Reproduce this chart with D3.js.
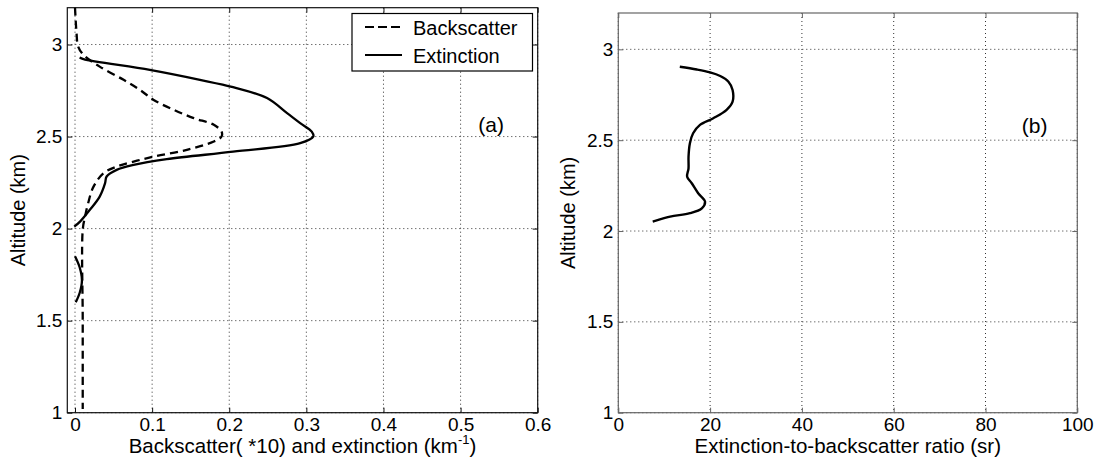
<!DOCTYPE html>
<html lang="en">
<head>
<meta charset="utf-8">
<script src="https://cdn.jsdelivr.net/npm/d3@7"></script>
<style>
  body { margin: 0; background: white; }
  svg { font-family: "Liberation Sans", Arial, sans-serif; }
  .grid line { stroke: #333; stroke-dasharray: 1,3; stroke-width: 1; }
  .axis path.domain { display: none; }
</style>
</head>
<body>
<svg width="1097" height="465"></svg>
<script>
// data
const yTicks = [1, 1.5, 2, 2.5, 3];
const yTickLabels = ["1", "1.5", "2", "2.5", "3"];
const xTicksA = [0, 0.1, 0.2, 0.3, 0.4, 0.5, 0.6];
const xTickLabelsA = ["0", "0.1", "0.2", "0.3", "0.4", "0.5", "0.6"];
const xTicksB = [0, 20, 40, 60, 80, 100];
const xTickLabelsB = ["0", "20", "40", "60", "80", "100"];

// backscatter (*10), dashed
const backAlt = [3.2, 3.06, 2.99, 2.944, 2.88, 2.808, 2.754, 2.699, 2.645, 2.6, 2.564, 2.527, 2.5,
  2.473, 2.428, 2.391, 2.364, 2.337, 2.301, 2.228, 2.138, 2.065, 1.993, 1.5, 1.02];
const backVal = [0.0, 0.002, 0.004, 0.011, 0.032, 0.063, 0.084, 0.102, 0.128, 0.154, 0.18, 0.19, 0.19,
  0.18, 0.145, 0.102, 0.076, 0.054, 0.037, 0.024, 0.017, 0.013, 0.010, 0.010, 0.010];

// extinction (km-1), solid; null = gap
const extAlt = [2.93, 2.921, 2.862, 2.808, 2.768, 2.709, 2.627, 2.573, 2.527, 2.5, 2.464, 2.418,
  2.377, 2.346, 2.319, 2.283, 2.247, 2.174, 2.101, 2.038, 2.011, 1.93,
  1.85, 1.79, 1.72, 1.65, 1.60];
const extVal = [0.006, 0.011, 0.097, 0.162, 0.205, 0.249, 0.275, 0.292, 0.307, 0.309, 0.292, 0.205,
  0.119, 0.076, 0.054, 0.041, 0.039, 0.032, 0.019, 0.0065, -0.001, null,
  0.0, 0.006, 0.009, 0.006, 0.001];

// extinction-to-backscatter ratio (sr)
const ratioAlt = [2.904, 2.889, 2.873, 2.853, 2.822, 2.776, 2.712, 2.667, 2.621, 2.584, 2.538, 2.483,
  2.409, 2.345, 2.299, 2.263, 2.208, 2.162, 2.125, 2.098, 2.079, 2.052];
const ratioVal = [13.4, 17.1, 20.0, 22.2, 24.0, 24.9, 24.9, 23.6, 20.7, 17.8, 16.3, 15.6,
  15.3, 15.3, 15.0, 16.0, 17.4, 18.9, 18.2, 15.6, 11.3, 7.5];

const FONT = '"Liberation Sans", Arial, sans-serif';
const svg = d3.select("svg");

function panel(o) {
  const x = d3.scaleLinear().domain(o.xDomain).range([o.left, o.right]);
  const y = d3.scaleLinear().domain([1, 3.2]).range([o.bottom, o.top]);
  const g = svg.append("g");

  const grid = g.append("g").attr("class", "grid");
  grid.selectAll(".gx").data(o.xTicks).enter().append("line")
    .attr("x1", d => x(d)).attr("x2", d => x(d))
    .attr("y1", o.top).attr("y2", o.bottom);
  grid.selectAll(".gy").data(yTicks).enter().append("line")
    .attr("x1", o.left).attr("x2", o.right)
    .attr("y1", d => y(d)).attr("y2", d => y(d));

  const xl = d => o.xLabels[o.xTicks.indexOf(d)];
  const yl = d => yTickLabels[yTicks.indexOf(d)];

  const axes = [
    g.append("g").attr("transform", `translate(0,${o.bottom})`)
      .call(d3.axisBottom(x).tickValues(o.xTicks).tickFormat(xl).tickSizeInner(-5).tickSizeOuter(0).tickPadding(5)),
    g.append("g").attr("transform", `translate(0,${o.top})`)
      .call(d3.axisTop(x).tickValues(o.xTicks).tickFormat("").tickSizeInner(-5).tickSizeOuter(0)),
    g.append("g").attr("transform", `translate(${o.left},0)`)
      .call(d3.axisLeft(y).tickValues(yTicks).tickFormat(yl).tickSizeInner(-5).tickSizeOuter(0).tickPadding(5)),
    g.append("g").attr("transform", `translate(${o.right},0)`)
      .call(d3.axisRight(y).tickValues(yTicks).tickFormat("").tickSizeInner(-5).tickSizeOuter(0))
  ];
  axes.forEach(a => {
    a.attr("class", "axis").attr("font-size", 19).attr("font-family", FONT);
    a.selectAll(".tick line").attr("stroke", o.boxColor);
    a.selectAll(".tick text").attr("fill", "#000");
  });

  g.append("rect")
    .attr("x", o.left).attr("y", o.top)
    .attr("width", o.right - o.left).attr("height", o.bottom - o.top)
    .attr("fill", "none").attr("stroke", o.boxColor).attr("stroke-width", 1.2);

  g.append("text")
    .attr("transform", `translate(${o.ylabX},${(o.top + o.bottom) / 2}) rotate(-90)`)
    .attr("text-anchor", "middle").attr("font-size", 20)
    .text("Altitude (km)");

  return { x, y, g };
}

// ---- panel (a)
const A = panel({ left: 67.3, right: 537.7, top: 7.7, bottom: 412.7,
  xDomain: [-0.01, 0.6], xTicks: xTicksA, xLabels: xTickLabelsA, boxColor: "#111", ylabX: 25 });

const lineA = d3.line()
  .defined(d => d[0] !== null)
  .x(d => A.x(d[0])).y(d => A.y(d[1]))
  .curve(d3.curveCatmullRom.alpha(0.5));

A.g.append("path")
  .datum(backVal.map((v, i) => [v, backAlt[i]]))
  .attr("d", lineA)
  .attr("fill", "none").attr("stroke", "#000").attr("stroke-width", 2.3)
  .attr("stroke-dasharray", "8,5");

A.g.append("path")
  .datum(extVal.map((v, i) => [v, extAlt[i]]))
  .attr("d", lineA)
  .attr("fill", "none").attr("stroke", "#000").attr("stroke-width", 2.3);

const xlabA = A.g.append("text")
  .attr("x", (67.3 + 537.7) / 2).attr("y", 453)
  .attr("text-anchor", "middle").attr("font-size", 20.5);
xlabA.append("tspan").text("Backscatter( *10) and extinction (km");
xlabA.append("tspan").attr("font-size", 13).attr("dy", -9).text("-1");
xlabA.append("tspan").attr("dy", 9).text(")");

A.g.append("text")
  .attr("x", A.x(0.523)).attr("y", A.y(2.527))
  .attr("font-size", 21).text("(a)");

// legend
const leg = A.g.append("g");
leg.append("rect")
  .attr("x", 352).attr("y", 13.5).attr("width", 180.5).attr("height", 57.5)
  .attr("fill", "white").attr("stroke", "#000").attr("stroke-width", 1.2);
leg.append("line").attr("x1", 365).attr("x2", 402).attr("y1", 27).attr("y2", 27)
  .attr("stroke", "#000").attr("stroke-width", 2).attr("stroke-dasharray", "9,4");
leg.append("line").attr("x1", 365).attr("x2", 402).attr("y1", 55).attr("y2", 55)
  .attr("stroke", "#000").attr("stroke-width", 2);
leg.append("text").attr("x", 413).attr("y", 34.5).attr("font-size", 20).text("Backscatter");
leg.append("text").attr("x", 413).attr("y", 62.5).attr("font-size", 20).text("Extinction");

// ---- panel (b)
const B = panel({ left: 618.3, right: 1077.3, top: 13, bottom: 412.7,
  xDomain: [0, 100], xTicks: xTicksB, xLabels: xTickLabelsB, boxColor: "#666", ylabX: 575 });

const lineB = d3.line()
  .x(d => B.x(d[0])).y(d => B.y(d[1]))
  .curve(d3.curveCatmullRom.alpha(0.5));

B.g.append("path")
  .datum(ratioVal.map((v, i) => [v, ratioAlt[i]]))
  .attr("d", lineB)
  .attr("fill", "none").attr("stroke", "#000").attr("stroke-width", 2.4);

B.g.append("text")
  .attr("x", (618.3 + 1077.3) / 2).attr("y", 453)
  .attr("text-anchor", "middle").attr("font-size", 20.5)
  .text("Extinction-to-backscatter ratio (sr)");

B.g.append("text")
  .attr("x", B.x(87.9)).attr("y", B.y(2.537))
  .attr("font-size", 21).text("(b)");
</script>
</body>
</html>
